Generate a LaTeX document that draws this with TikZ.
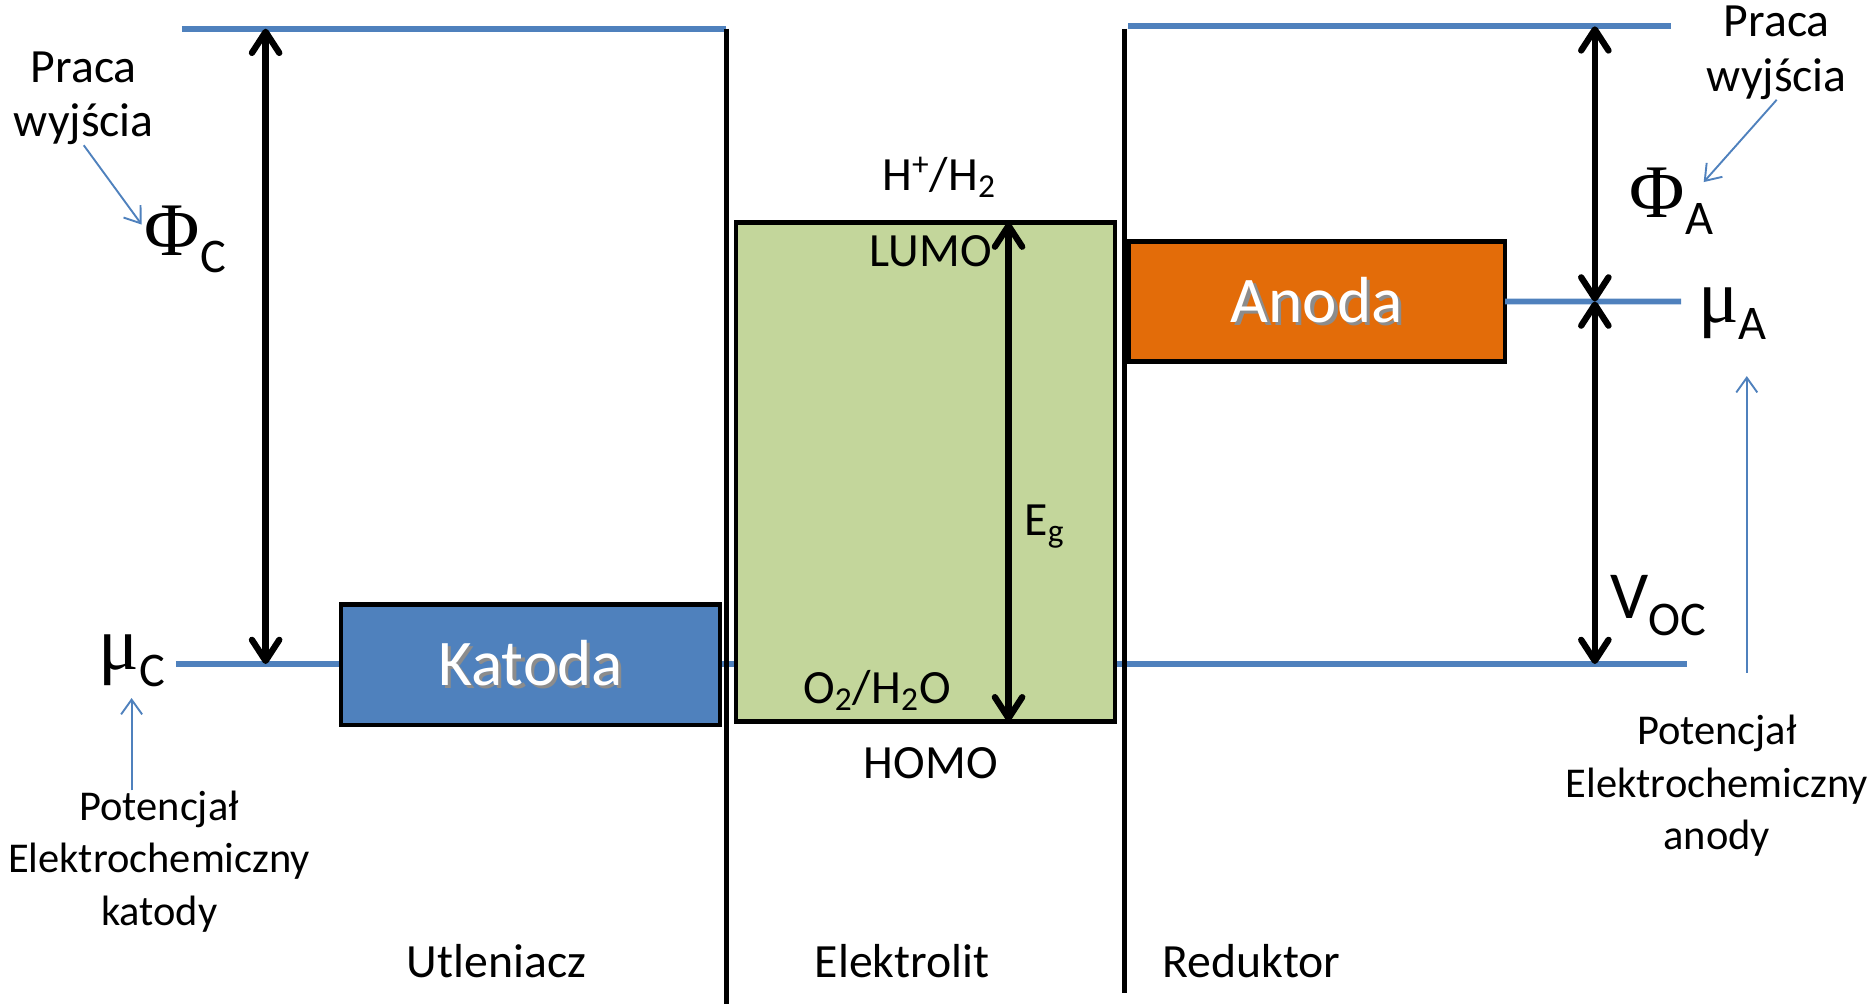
\documentclass[tikz,border=0pt]{standalone}
\usepackage{fontspec}
\setmainfont{Carlito}
\newfontfamily\greekfont{Liberation Serif}
\definecolor{levelblue}{RGB}{79, 129, 189}
\definecolor{elgreen}{RGB}{195, 214, 155}
\definecolor{anodeorange}{RGB}{227, 108, 9}
\usetikzlibrary{arrows.meta, positioning, calc}
\newcommand{\boxtext}[1]{\rlap{\kern1.6pt\raisebox{-1.6pt}{\color{black!45}#1}}#1}
\newcommand{\levelsym}[2]{{\greekfont\fontsize{36}{36}\selectfont #1}\raisebox{-8pt}{\fontsize{23}{23}\selectfont #2}}

\begin{document}
\begin{tikzpicture}[x=0.02cm, y=-0.02cm,
  level/.style={levelblue, line width=2.8pt},
  wall/.style={black, line width=2.3pt},
  band/.style={draw=black, line width=2.2pt, inner sep=0pt, outer sep=0pt, anchor=north west},
  gap/.style={line width=3pt, {Straight Barb[length=10pt, width=13pt, round]}-{Straight Barb[length=10pt, width=13pt, round]}},
  note/.style={levelblue, line width=0.9pt, -{Straight Barb[length=7pt, width=10pt]}},
  lbl/.style={font=\fontsize{22.7}{26}\selectfont, align=center, inner sep=0pt},
  potlbl/.style={font=\fontsize{20.2}{25}\selectfont, align=center, inner sep=0pt}]
  \useasboundingbox (0,0) rectangle (1568,839);

  \coordinate (topC) at (222,24);
  \coordinate (muCarrow) at (222,555);
  \coordinate (topA) at (1333,22);
  \coordinate (muAarrow) at (1333,252);
  \coordinate (vocbase) at (1333,555);

  \draw[level] (152,24) -- (607,24);
  \draw[level] (943,22) -- (1397,22);
  \draw[level] (147,555) -- (1410,555);

  \node[band, fill=levelblue, minimum width=6.34cm, minimum height=2.02cm,
        text=white, font=\fontsize{31}{31}\selectfont] (katoda) at (285,505) {\boxtext{Katoda}};
  \node[band, fill=elgreen, minimum width=6.34cm, minimum height=8.34cm] (elektrolit) at (615,186) {};
  \node[band, fill=anodeorange, minimum width=6.30cm, minimum height=2.0cm,
        text=white, font=\fontsize{31}{31}\selectfont] (anoda) at (943,202) {\boxtext{Anoda}};
  \draw[level] (anoda.east) -- (1405,252);

  \draw[wall] (607,24) -- (607,839);
  \draw[wall] (940,24) -- (940,830);

  \draw[gap] (topC) -- (muCarrow);
  \draw[gap] ([xshift=1.39cm]elektrolit.north) -- ([xshift=1.39cm]elektrolit.south);
  \draw[gap] (topA) -- (muAarrow);
  \draw[gap] (muAarrow) -- (vocbase);

  \node (phiC) at (155,200) {\levelsym{Φ}{C}};
  \node (muC) at (110,552) {\levelsym{μ}{C}};
  \node (phiA) at (1397,168) {\levelsym{Φ}{A}};
  \node (muA) at (1448,262) {\levelsym{μ}{A}};
  \node[font=\fontsize{32}{32}\selectfont] (voc) at (1386,506) {V\raisebox{-8pt}{\fontsize{23}{23}\selectfont OC}};

  \node[lbl] (pracaC) at (70,82) {Praca\\wyjścia};
  \node[lbl] (pracaA) at (1485,44) {Praca\\wyjścia};
  \node[potlbl] (potC) at (133,720) {Potencjał\\Elektrochemiczny\\katody};
  \node[potlbl] (potA) at (1435,657) {Potencjał\\Elektrochemiczny\\anody};

  \draw[note] (pracaC.south) -- ([shift={(2pt,7pt)}]phiC.west);
  \draw[note] (pracaA.south) -- ([shift={(-8pt,9pt)}]phiA.east);
  \draw[note] (potC.north -| muC.south) -- ([yshift=-2pt]muC.south);
  \draw[note, shorten <=20pt] (potA.north -| 1460,0) -- ([yshift=-14pt]muA.south -| 1460,0);

  \node[lbl] (hplus) at (785,148) {H\textsuperscript{+}/H\textsubscript{2}};
  \node[lbl] (lumo) at (778,210) {LUMO};
  \node[lbl] (eg) at (873,440) {E\textsubscript{g}};
  \node[lbl] (o2) at (733,577) {O\textsubscript{2}/H\textsubscript{2}O};
  \node[lbl] (homo) at (778,638) {HOMO};

  \node[lbl] (utleniacz) at (415,803) {Utleniacz};
  \node[lbl] (elektrolitlbl) at (754,803) {Elektrolit};
  \node[lbl] (reduktor) at (1046,803) {Reduktor};
\end{tikzpicture}
\end{document}
